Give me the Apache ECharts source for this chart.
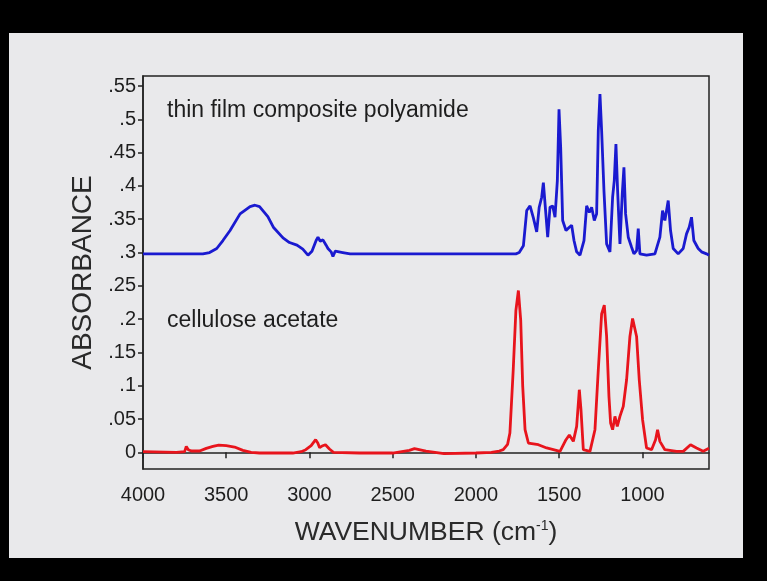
<!DOCTYPE html>
<html>
<head>
<meta charset="utf-8">
<script src="https://cdn.jsdelivr.net/npm/echarts@6/dist/echarts.min.js"></script>
<style>
  html, body { margin: 0; padding: 0; background: #000; }
  #chart { width: 767px; height: 581px; }
</style>
</head>
<body>
<div id="chart"></div>
<script>
// wavenumber (cm-1), absorbance
const polyamide = [
  [4000, 0.298], [3700, 0.298], [3640, 0.298], [3600, 0.300], [3557, 0.306], [3520, 0.318],
  [3477, 0.333], [3417, 0.358], [3357, 0.369], [3327, 0.371], [3300, 0.369], [3250, 0.354],
  [3217, 0.338], [3159, 0.322], [3120, 0.315], [3075, 0.311], [3040, 0.305], [3009, 0.296],
  [2985, 0.302], [2960, 0.318], [2949, 0.323], [2935, 0.317], [2919, 0.319], [2900, 0.311],
  [2889, 0.306], [2870, 0.301], [2859, 0.294], [2845, 0.302], [2835, 0.302], [2800, 0.300],
  [2756, 0.298], [2400, 0.298], [2000, 0.298], [1760, 0.298], [1740, 0.300], [1715, 0.310],
  [1695, 0.363], [1675, 0.370], [1655, 0.352], [1635, 0.331], [1620, 0.368], [1605, 0.383],
  [1595, 0.405], [1580, 0.358], [1569, 0.323], [1555, 0.368], [1539, 0.370], [1525, 0.353],
  [1511, 0.408], [1501, 0.515], [1491, 0.458], [1479, 0.348], [1459, 0.333], [1439, 0.338],
  [1425, 0.341], [1411, 0.318], [1395, 0.301], [1375, 0.296], [1351, 0.318], [1335, 0.370],
  [1319, 0.360], [1305, 0.368], [1289, 0.348], [1275, 0.358], [1265, 0.483], [1255, 0.538],
  [1245, 0.483], [1231, 0.393], [1215, 0.313], [1195, 0.301], [1179, 0.383], [1169, 0.408],
  [1159, 0.463], [1149, 0.393], [1135, 0.313], [1121, 0.388], [1111, 0.428], [1101, 0.358],
  [1085, 0.323], [1065, 0.308], [1051, 0.298], [1035, 0.303], [1025, 0.336], [1015, 0.298],
  [975, 0.296], [925, 0.298], [895, 0.323], [879, 0.363], [865, 0.348], [845, 0.378],
  [831, 0.333], [815, 0.306], [785, 0.298], [755, 0.306], [735, 0.328], [719, 0.338],
  [705, 0.353], [691, 0.318], [665, 0.306], [645, 0.301], [615, 0.298], [600, 0.296]
]

const celluloseAcetate = [
  [4000, 0.001], [3800, 0.000], [3750, 0.001], [3740, 0.009], [3735, 0.0115], [3728, 0.004],
  [3710, 0.002], [3660, 0.002], [3620, 0.006], [3580, 0.009], [3545, 0.011], [3500, 0.010],
  [3450, 0.008], [3400, 0.003], [3350, 0.000], [3300, -0.001], [3100, -0.001], [3050, 0.001],
  [3022, 0.004], [2990, 0.010], [2963, 0.019], [2950, 0.014], [2939, 0.007], [2920, 0.010],
  [2904, 0.0115], [2880, 0.005], [2856, 0.000], [2700, -0.001], [2500, -0.001], [2400, 0.003],
  [2369, 0.0055], [2300, 0.002], [2192, -0.002], [2000, -0.001], [1907, 0.000], [1860, 0.002],
  [1836, 0.004], [1810, 0.012], [1796, 0.029], [1776, 0.124], [1760, 0.213], [1745, 0.243],
  [1731, 0.198], [1719, 0.099], [1705, 0.034], [1685, 0.014], [1625, 0.0115], [1575, 0.0066],
  [1495, 0.0015], [1459, 0.019], [1439, 0.026], [1415, 0.0165], [1395, 0.039], [1379, 0.094],
  [1369, 0.064], [1355, 0.004], [1315, 0.0015], [1285, 0.034], [1265, 0.124], [1245, 0.208],
  [1229, 0.221], [1215, 0.174], [1201, 0.084], [1191, 0.044], [1179, 0.034], [1165, 0.054],
  [1151, 0.039], [1135, 0.054], [1115, 0.069], [1095, 0.109], [1075, 0.174], [1059, 0.201],
  [1049, 0.203], [1035, 0.174], [1019, 0.109], [999, 0.049], [975, 0.0066], [945, 0.004],
  [921, 0.019], [909, 0.034], [895, 0.0165], [865, 0.004], [795, 0.0015], [755, 0.0015],
  [711, 0.0115], [675, 0.0066], [635, 0.0015], [600, 0.006]
]

const xTicks = [4000, 3500, 3000, 2500, 2000, 1500, 1000]
const yTicks = [0, 0.05, 0.1, 0.15, 0.2, 0.25, 0.3, 0.35, 0.4, 0.45, 0.5, 0.55]

const chart = echarts.init(document.getElementById('chart'))

const option = {
  animation: false,
  backgroundColor: '#000',
  textStyle: { fontFamily: 'Liberation Sans, Arial, sans-serif' },
  graphic: [
    {
      type: 'rect',
      z: -10,
      shape: { x: 9, y: 33, width: 734, height: 525 },
      style: { fill: '#e9e9eb' }
    },
    {
      type: 'text',
      left: 167,
      top: 99,
      style: { text: 'thin film composite polyamide', fill: '#1e1e1e', font: '23px Liberation Sans' }
    },
    {
      type: 'text',
      left: 167,
      top: 309,
      style: { text: 'cellulose acetate', fill: '#1e1e1e', font: '23px Liberation Sans' }
    }
  ],
  grid: {
    left: 143,
    top: 76,
    right: 58,
    bottom: 112,
    show: true,
    borderColor: '#222',
    borderWidth: 1.5,
    backgroundColor: 'transparent'
  },
  xAxis: {
    type: 'value',
    inverse: true,
    min: 600,
    max: 4000,
    name: 'WAVENUMBER (cm{sup|-1})',
    nameLocation: 'middle',
    nameGap: 50,
    nameTextStyle: {
      color: '#2a2a2a',
      fontSize: 26.5,
      rich: { sup: { fontSize: 14, verticalAlign: 'top', padding: [0, 0, 13, 0], color: '#2a2a2a' } }
    },
    axisLine: { show: true, lineStyle: { color: '#222', width: 1.5 } },
    axisTick: { show: true, length: 6, customValues: xTicks, lineStyle: { color: '#222', width: 1.5 } },
    axisLabel: {
      customValues: xTicks,
      color: '#1e1e1e',
      fontSize: 20,
      margin: 16,
      formatter: function (v) { return String(v) }
    },
    splitLine: { show: false }
  },
  yAxis: {
    type: 'value',
    min: -0.025,
    max: 0.565,
    name: 'ABSORBANCE',
    nameLocation: 'middle',
    nameGap: 46,
    nameTextStyle: { color: '#2a2a2a', fontSize: 28 },
    axisLine: { show: true, lineStyle: { color: '#222', width: 1.5 } },
    axisTick: { show: true, length: 5, customValues: yTicks, lineStyle: { color: '#222', width: 1.5 } },
    axisLabel: {
      customValues: yTicks,
      color: '#1e1e1e',
      fontSize: 20,
      margin: 7,
      formatter: function (v) {
        if (Math.abs(v) < 1e-9) return '0'
        return String(+v.toFixed(2)).replace(/^0/, '')
      }
    },
    splitLine: { show: false }
  },
  series: [
    {
      name: 'thin film composite polyamide',
      type: 'line',
      data: polyamide,
      showSymbol: false,
      lineStyle: { color: '#1a1ad0', width: 2.8 }
    },
    {
      name: 'cellulose acetate',
      type: 'line',
      data: celluloseAcetate,
      showSymbol: false,
      lineStyle: { color: '#e8141c', width: 2.8 }
    }
  ]
}

chart.setOption(option)
</script>
</body>
</html>
